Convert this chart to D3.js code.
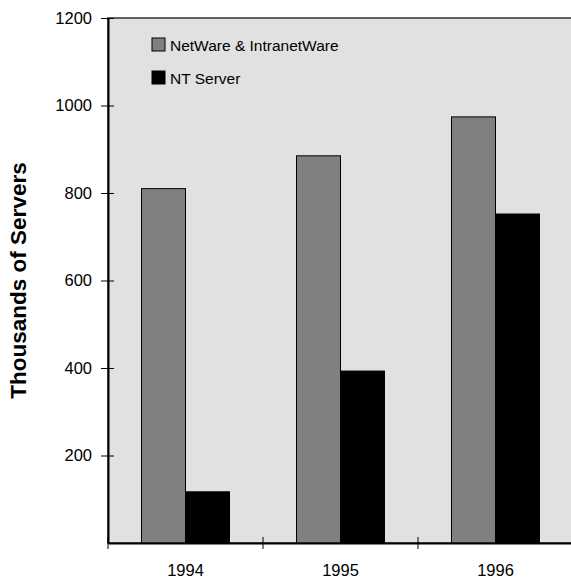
<!DOCTYPE html>
<html>
<head>
<meta charset="utf-8">
<script src="https://cdn.jsdelivr.net/npm/d3@7"></script>
<style>
  body { margin: 0; background: #fff; }
  text { font-family: "Liberation Sans", Arial, sans-serif; }
</style>
</head>
<body>
<div class="wrapper"></div>
<script>
const years = ["1994", "1995", "1996"]
const seriesNames = ["NetWare & IntranetWare", "NT Server"]
const netware = [810, 885, 974]
const ntServer = [117, 393, 752]
const yTicks = [200, 400, 600, 800, 1000, 1200]

const w = 571
const h = 585
const plotLeft = 108
const plotRight = 573
const plotTop = 18
const plotBottom = 543
const colors = ["#808080", "#000000"]

const svg = d3.select(".wrapper")
  .append("svg")
  .attr("width", w)
  .attr("height", h)

const xScale = d3.scaleBand().domain(years).range([plotLeft, plotRight])
const inner = d3.scaleBand().domain(seriesNames).range([33.5, 155 - 33.5])
const yScale = d3.scaleLinear().domain([0, 1200]).range([plotBottom, plotTop])

// plot background
svg.append("rect")
  .attr("x", plotLeft)
  .attr("y", plotTop)
  .attr("width", plotRight - plotLeft)
  .attr("height", plotBottom - plotTop)
  .attr("fill", "#e1e1e1")
  .attr("stroke", "#333")
  .attr("stroke-width", 1.5)

const rows = years.map((y, i) => ({ year: y, values: [netware[i], ntServer[i]] }))

svg.selectAll("g.group")
  .data(rows)
  .enter()
  .append("g")
  .attr("class", "group")
  .attr("transform", (d) => "translate(" + xScale(d.year) + ",0)")
  .selectAll("rect")
  .data((d) => d.values.map((v, j) => ({ name: seriesNames[j], v: v, j: j })))
  .enter()
  .append("rect")
  .attr("x", (d) => inner(d.name))
  .attr("y", (d) => yScale(d.v))
  .attr("width", inner.bandwidth())
  .attr("height", (d) => plotBottom - yScale(d.v))
  .attr("fill", (d) => colors[d.j])
  .attr("stroke", "#000")
  .attr("stroke-width", 1)

// y axis
const yAxis = d3.axisLeft(yScale).tickValues(yTicks).tickFormat(d3.format("d"))
  .tickSize(0).tickPadding(16)
const yg = svg.append("g")
  .attr("transform", "translate(" + plotLeft + ",0)")
  .call(yAxis)
yg.select(".domain").attr("stroke", "#000").attr("stroke-width", 2)
yg.selectAll(".tick text").attr("font-size", 16.5).attr("fill", "#000")
yg.selectAll(".tick").append("line")
  .attr("x1", -7).attr("x2", 6)
  .attr("stroke", "#000")

// x axis
const xAxis = d3.axisBottom(xScale).tickSize(0).tickPadding(21)
const xg = svg.append("g")
  .attr("transform", "translate(0," + plotBottom + ")")
  .call(xAxis)
xg.select(".domain").attr("stroke", "#000").attr("stroke-width", 2)
xg.selectAll(".tick text").attr("font-size", 16.5).attr("fill", "#000")
xg.selectAll(".sep")
  .data(years.map((y) => xScale(y)))
  .enter()
  .append("line")
  .attr("x1", (d) => d).attr("x2", (d) => d)
  .attr("y1", -6).attr("y2", 6)
  .attr("stroke", "#000")

// y title
svg.append("text")
  .attr("transform", "translate(26," + ((plotTop + plotBottom) / 2) + ") rotate(-90)")
  .attr("text-anchor", "middle")
  .attr("font-size", 22.5)
  .attr("font-weight", "bold")
  .text("Thousands of Servers")

// legend
const legend = svg.selectAll("g.legend")
  .data(seriesNames)
  .enter()
  .append("g")
  .attr("class", "legend")
  .attr("transform", (d, i) => "translate(152," + (38 + i * 33) + ")")
legend.append("rect")
  .attr("width", 13)
  .attr("height", 13)
  .attr("fill", (d, i) => colors[i])
  .attr("stroke", "#000")
legend.append("text")
  .attr("x", 18)
  .attr("y", 12.5)
  .attr("font-size", 15.5)
  .text((d) => d)
</script>
</body>
</html>
